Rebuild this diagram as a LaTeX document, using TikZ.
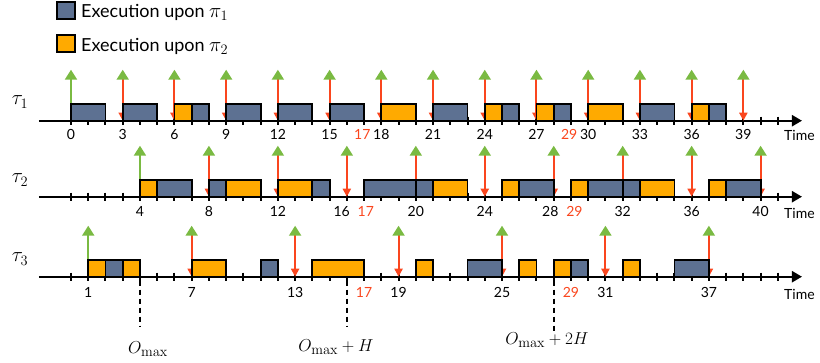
\documentclass[tikz,border=0pt]{standalone}
\usepackage[no-math]{fontspec}
\setmainfont{Lato}
\usetikzlibrary{arrows.meta}
\definecolor{pione}{RGB}{93,113,146}
\definecolor{pitwo}{RGB}{255,170,0}
\definecolor{relgreen}{RGB}{122,186,66}
\definecolor{dlred}{RGB}{250,70,30}
\tikzset{
  timeaxis/.style={line width=2.2pt,-{Triangle[length=10pt,width=11pt]}},
  tickmark/.style={line width=2pt},
  boxone/.style={draw=black,line width=1.8pt,fill=pione},
  boxtwo/.style={draw=black,line width=1.8pt,fill=pitwo},
  relarrow/.style={line width=2pt,draw=dlred,{Triangle[length=8pt,width=8pt,color=dlred]}-{Triangle[length=10pt,width=12pt,color=relgreen]}},
  firstarrow/.style={line width=2pt,draw=relgreen,-{Triangle[length=10pt,width=12pt,color=relgreen]}},
  numlab/.style={font=\fontsize{14}{15}\selectfont,anchor=base,inner sep=0pt},
  redlab/.style={numlab,text=dlred},
  timelab/.style={font=\fontsize{14}{15}\selectfont,anchor=base west,inner sep=0pt},
  tasklab/.style={font=\fontsize{22}{24}\selectfont,inner sep=0pt},
  omaxlab/.style={font=\fontsize{19}{20}\selectfont,inner sep=0pt},
  omaxline/.style={line width=2pt,dash pattern=on 5pt off 4pt},
  legendtext/.style={font=\fontsize{18}{20}\selectfont,anchor=base west,inner sep=0pt},
}
\newcommand\bigmath[1]{{\fontsize{22}{24}\selectfont$#1$}}
\begin{document}
\begin{tikzpicture}[x=1pt,y=-1pt]
\useasboundingbox (0,0) rectangle (820,362);
% legend
\draw[boxone] (57,2) rectangle (75,19);
\node[legendtext] (leg1) at (81,17.5) {Execution upon \bigmath{\pi_1}};
\draw[boxtwo] (57,35) rectangle (75,52);
\node[legendtext] (leg2) at (81,51) {Execution upon \bigmath{\pi_2}};
% task labels
\node[tasklab] (t1) at (20,102) {$\tau_1$};
\node[tasklab] (t2) at (20,180) {$\tau_2$};
\node[tasklab] (t3) at (20,259) {$\tau_3$};
% time labels
\node[timelab] (time1) at (784,140) {Time};
\node[timelab] (time2) at (784,218) {Time};
\node[timelab] (time3) at (784,299) {Time};
% ---------- row 1 ----------
\begin{scope}[shift={(71,120.7)},x=17.24pt]
  \draw[timeaxis] (-1.86,0) -- (42.4,0);
  \foreach \t in {0,...,41} \draw[tickmark] (\t,-4) -- (\t,4);
  \draw[firstarrow] (0,0) -- (0,-51);
  \foreach \t in {3,6,...,39} \draw[relarrow] (\t,0) -- (\t,-51);
  \foreach \a/\b in {0/2,3/5,7/8,9/11,12/14,15/17,21/23,25/26,28/29,33/35,37/38}
    \draw[boxone] (\a,0) rectangle (\b,-16.5);
  \foreach \a/\b in {6/7,18/20,24/25,27/28,30/32,36/37}
    \draw[boxtwo] (\a,0) rectangle (\b,-16.5);
  \foreach \t in {0,3,...,39} \node[numlab] (ra\t) at (\t,19) {\t};
  \node[redlab] (ra17) at (16.9,19) {17};
  \node[redlab] (ra29) at (28.9,19) {29};
\end{scope}
% ---------- row 2 ----------
\begin{scope}[shift={(71,196.7)},x=17.24pt]
  \draw[timeaxis] (-1.86,0) -- (42.4,0);
  \foreach \t in {0,...,41} \draw[tickmark] (\t,-4) -- (\t,4);
  \draw[firstarrow] (4,0) -- (4,-51);
  \foreach \t in {8,12,...,40} \draw[relarrow] (\t,0) -- (\t,-51);
  \foreach \a/\b in {5/7,8/9,14/15,17/20,20/21,26/28,30/32,32/33,38/40}
    \draw[boxone] (\a,0) rectangle (\b,-16.5);
  \foreach \a/\b in {4/5,9/11,12/14,21/23,25/26,29/30,33/35,37/38}
    \draw[boxtwo] (\a,0) rectangle (\b,-16.5);
  \foreach \t in {4,8,12,20,24,32,36,40} \node[numlab] (rb\t) at (\t,20) {\t};
  \node[numlab] (rb16) at (15.7,20) {16};
  \node[numlab] (rb28) at (27.8,20) {28};
  \node[redlab] (rb17) at (17.1,20) {17};
  \node[redlab] (rb29) at (29.2,20) {29};
\end{scope}
% ---------- row 3 ----------
\begin{scope}[shift={(71,276.7)},x=17.24pt]
  \draw[timeaxis] (-1.86,0) -- (42.4,0);
  \foreach \t in {0,...,41} \draw[tickmark] (\t,-4) -- (\t,4);
  \draw[firstarrow] (1,0) -- (1,-51);
  \foreach \t in {7,13,...,37} \draw[relarrow] (\t,0) -- (\t,-51);
  \foreach \a/\b in {2/3,11/12,23/25,29/30,35/37}
    \draw[boxone] (\a,0) rectangle (\b,-16.5);
  \foreach \a/\b in {1/2,3/4,7/9,14/17,20/21,26/27,28/29,32/33}
    \draw[boxtwo] (\a,0) rectangle (\b,-16.5);
  \foreach \t in {1,7,...,37} \node[numlab] (rc\t) at (\t,21) {\t};
  \node[redlab] (rc17) at (17,21) {17};
  \node[redlab] (rc29) at (29,21) {29};
  \coordinate (d1a) at (4,4);  \coordinate (d1b) at (4,50);
  \coordinate (d2a) at (16,4); \coordinate (d2b) at (16,50);
  \coordinate (d3a) at (28,4); \coordinate (d3b) at (28,57);
  \draw[omaxline] (d1a) -- (d1b);
  \draw[omaxline] (d2a) -- (d2b);
  \draw[omaxline] (d3a) -- (d3b);
\end{scope}
\node[omaxlab] (om1) at (148,349) {$O_{\max}$};
\node[omaxlab] (om2) at (336,347) {$O_{\max}+H$};
\node[omaxlab] (om3) at (547,340) {$O_{\max}+2H$};
\end{tikzpicture}
\end{document}
